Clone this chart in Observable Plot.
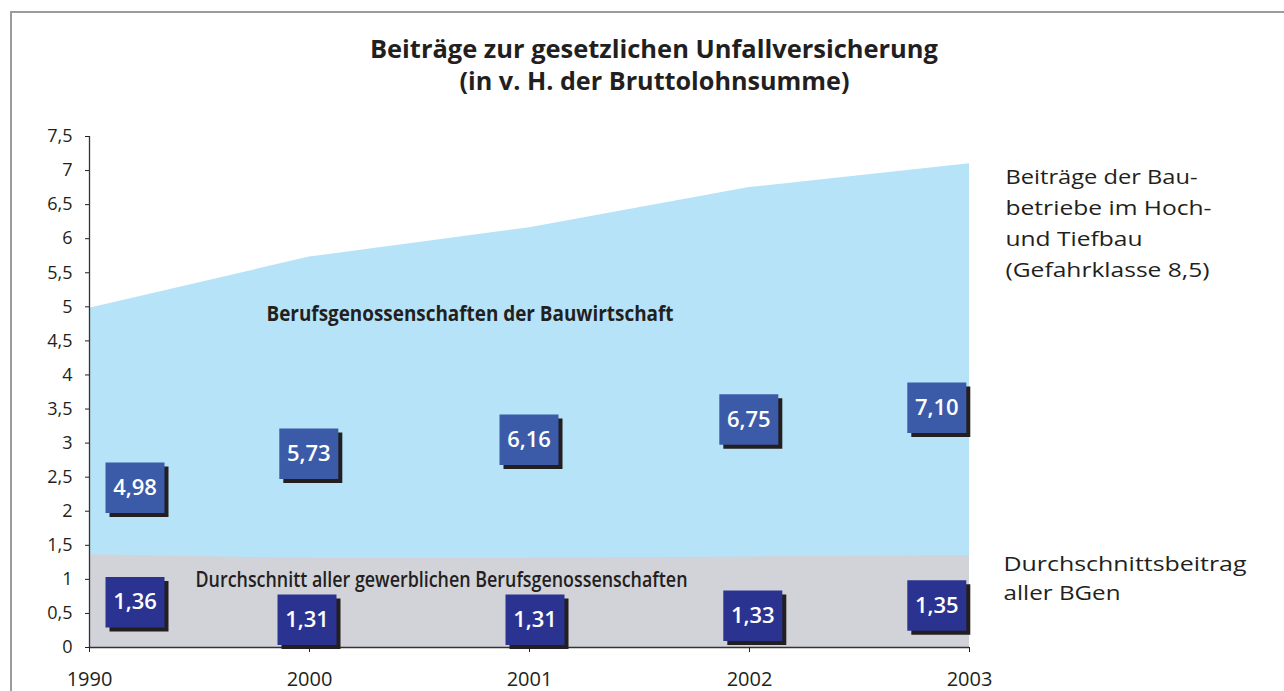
<!DOCTYPE html>
<html>
<head>
<meta charset="utf-8">
<script src="https://cdn.jsdelivr.net/npm/d3@7"></script>
<script src="https://cdn.jsdelivr.net/npm/@observablehq/plot@0.6"></script>
<style>
  html, body { margin: 0; padding: 0; background: #fff; }
  #wrap { position: relative; width: 1284px; height: 691px; overflow: hidden; font-family: "Open Sans", sans-serif; color: #222; }
  #frame { position: absolute; left: 10px; top: 11px; width: 1300px; height: 800px; border-top: 2px solid #9c9c9c; border-left: 2px solid #9c9c9c; pointer-events: none; }
  #title { height: 110px; box-sizing: border-box; padding-top: 32px; padding-left: 24px; text-align: center; font-weight: 700; font-size: 25px; line-height: 32px; color: #231f20; }
  #title span { display: inline-block; transform-origin: center; white-space: nowrap; height: 32px; }
  #chart svg { display: block; }
</style>
</head>
<body>
<div id="wrap">
  <div id="frame"></div>
  <div id="title"><span id="t1"></span><br><span id="t2"></span></div>
  <div id="chart"></div>
</div>
<script>
// ---- data ----
const years = ["1990", "2000", "2001", "2002", "2003"];
const bauValues = [4.98, 5.73, 6.16, 6.75, 7.10];
const avgValues = [1.36, 1.31, 1.31, 1.33, 1.35];
const yTicks = [0, 0.5, 1, 1.5, 2, 2.5, 3, 3.5, 4, 4.5, 5, 5.5, 6, 6.5, 7, 7.5];
const titleLines = ["Beiträge zur gesetzlichen Unfallversicherung", "(in v. H. der Bruttolohnsumme)"];
const bauLabel = "Berufsgenossenschaften der Bauwirtschaft";
const avgLabel = "Durchschnitt aller gewerblichen Berufsgenossenschaften";
const bauLegend = ["Beiträge der Bau-", "betriebe im Hoch-", "und Tiefbau", "(Gefahrklasse 8,5)"];
const avgLegend = ["Durchschnittsbeitrag", "aller BGen"];

// ---- style / layout (kept separate from data) ----
const bauNudgeX = [45.5, -0.7, -0.5, -0.7, -32.7];
const bauNudgeY = [10, 1.5, 2, 2, 2];
const avgNudgeX = [45.5, -2.5, 5.5, 3.3, -32.7];
const avgNudgeY = [1, 17, 17, 13.6, 4];
const colBauArea = "#b6e3f7", colAvgArea = "#d2d3d9";
const colBauBox = "#3b5ba9", colAvgBox = "#2b3391", colShadow = "#231f20";

const rows = years.map((year, i) => ({year, bau: bauValues[i], avg: avgValues[i]}));
const fmt = v => d3.format(".2f")(v).replace(".", ",");

const boxSymbol = {
  draw(ctx) {
    const w = 29.5, h = 25.25;
    ctx.moveTo(-w, -h); ctx.lineTo(w, -h); ctx.lineTo(w, h); ctx.lineTo(-w, h); ctx.closePath();
  }
};

const marks = [
  Plot.areaY(rows, {x: "year", y1: 0, y2: "bau", fill: colBauArea}),
  Plot.areaY(rows, {x: "year", y1: 0, y2: "avg", fill: colAvgArea}),
  Plot.ruleY([0], {stroke: "#333", strokeWidth: 1.3}),
  Plot.ruleX([years[0]], {stroke: "#333", strokeWidth: 1.3}),
  Plot.axisY({ticks: yTicks, tickFormat: d => String(d).replace(".", ","), tickSize: 4, tickPadding: 13, fontSize: 18, label: null}),
  Plot.axisX({tickSize: 5, tickPadding: 19, fontSize: 20, label: null}),
  Plot.text([bauLabel], {frameAnchor: "top-left", dx: 177, dy: 169, text: d => d, textAnchor: "start", fontSize: 22, fontWeight: 700, fill: "#231f20"}),
  Plot.text([avgLabel], {frameAnchor: "top-left", dx: 106, dy: 435, text: d => d, textAnchor: "start", fontSize: 22, fontWeight: 600, fill: "#231f20"}),
  Plot.text([bauLegend.join("\n")], {frameAnchor: "top-right", dx: 36, dy: 25, text: d => d, textAnchor: "start", lineAnchor: "top", lineHeight: 1.55, fontSize: 20, fill: "#231f20"}),
  Plot.text([avgLegend.join("\n")], {frameAnchor: "top-right", dx: 34, dy: 414, text: d => d, textAnchor: "start", lineAnchor: "top", lineHeight: 1.45, fontSize: 20, fill: "#231f20"})
];

rows.forEach((r, i) => {
  const sets = [
    {y: d => d.bau / 2, v: d => fmt(d.bau), nx: bauNudgeX[i], ny: bauNudgeY[i], col: colBauBox},
    {y: d => d.avg / 2, v: d => fmt(d.avg), nx: avgNudgeX[i], ny: avgNudgeY[i], col: colAvgBox}
  ];
  for (const s of sets) {
    marks.push(Plot.dot([r], {x: "year", y: s.y, symbol: boxSymbol, fill: colShadow, dx: s.nx + 4, dy: s.ny + 4}));
    marks.push(Plot.dot([r], {x: "year", y: s.y, symbol: boxSymbol, fill: s.col, dx: s.nx, dy: s.ny}));
    marks.push(Plot.text([r], {x: "year", y: s.y, text: s.v, dx: s.nx, dy: s.ny, fill: "white", fontSize: 22, fontWeight: 600}));
  }
});

const chart = Plot.plot({
  width: 1284,
  height: 581,
  marginTop: 26,
  marginBottom: 44,
  marginLeft: 89,
  marginRight: 315,
  style: {fontFamily: "'Open Sans', sans-serif", background: "transparent", color: "#231f20", overflow: "visible"},
  x: {type: "point", domain: years, padding: 0, label: null},
  y: {domain: [0, 7.5], label: null},
  marks
});
document.getElementById("chart").appendChild(chart);

// stretch long labels to the reference widths (start-anchored texts only)
function stretch(str, w) {
  chart.querySelectorAll("text, tspan").forEach(el => {
    if (el.querySelector("tspan")) return;
    if (el.textContent === str) { el.setAttribute("textLength", w); el.setAttribute("lengthAdjust", "spacingAndGlyphs"); }
  });
}
stretch(bauLabel, 407);
stretch(avgLabel, 492);
const legendW = [192, 206, 137, 204];
bauLegend.forEach((s, i) => stretch(s, legendW[i]));
stretch(avgLegend[0], 243);
stretch(avgLegend[1], 117);

// title
const t1 = document.getElementById("t1"), t2 = document.getElementById("t2");
t1.textContent = titleLines[0];
t2.textContent = titleLines[1];
[[t1, 568], [t2, 390]].forEach(([el, w]) => {
  const cur = el.getBoundingClientRect().width;
  if (cur > 0) el.style.transform = `scaleX(${w / cur})`;
});
</script>
</body>
</html>
